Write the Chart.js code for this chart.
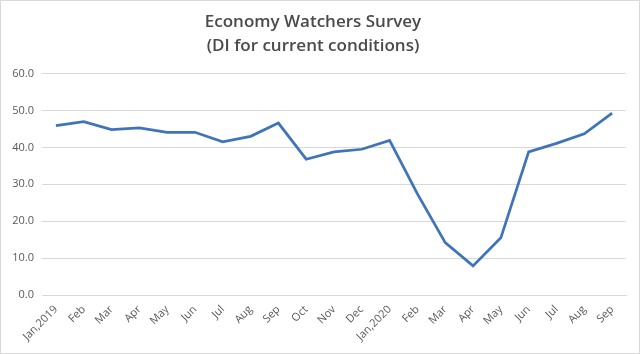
<!DOCTYPE html>
<html>
<head>
<meta charset="utf-8">
<script src="https://cdn.jsdelivr.net/npm/chart.js@4/dist/chart.umd.min.js"></script>
<style>
  html, body { margin: 0; padding: 0; background: #fff; }
  #wrap { position: relative; width: 640px; height: 354px; }
</style>
</head>
<body>
<div id="wrap"><canvas id="chart"></canvas></div>
<script>
// Economy Watchers Survey, DI for current conditions
const months = ['Jan,2019', 'Feb', 'Mar', 'Apr', 'May', 'Jun', 'Jul', 'Aug', 'Sep', 'Oct', 'Nov', 'Dec',
	'Jan,2020', 'Feb', 'Mar', 'Apr', 'May', 'Jun', 'Jul', 'Aug', 'Sep'];
const diCurrent = [45.9, 47.0, 44.8, 45.3, 44.1, 44.1, 41.5, 43.0, 46.6, 36.8, 38.8, 39.5,
	41.9, 27.4, 14.2, 7.9, 15.5, 38.8, 41.1, 43.7, 49.3];
const titleLines = ['Economy Watchers Survey', '(DI for current conditions)'];

const FONT = "'Open Sans', 'Liberation Sans', sans-serif";
const TEXT = '#595959';
const GRID = '#d9d9d9';

// thin frame round the whole picture
const frame = {
	id: 'frame',
	afterDraw(chart) {
		const c = chart.ctx;
		c.save();
		c.strokeStyle = GRID;
		c.lineWidth = 1;
		c.strokeRect(0.5, 0.5, chart.width - 1, chart.height - 1);
		c.restore();
	}
};

new Chart(document.getElementById('chart'), {
	type: 'line',
	data: {
		labels: months,
		datasets: [{
			data: diCurrent,
			borderColor: '#3f74bb',
			borderWidth: 2.75,
			pointRadius: 0,
			tension: 0,
			fill: false
		}]
	},
	options: {
		responsive: true,
		maintainAspectRatio: false,
		animation: false,
		layout: { padding: { left: 0, right: 14, top: 0, bottom: 0 } },
		plugins: {
			legend: { display: false },
			tooltip: { enabled: false },
			title: {
				display: true,
				text: titleLines,
				color: '#4a4a4a',
				font: { family: FONT, size: 17, weight: '600', lineHeight: 1.4 },
				padding: { top: 10, bottom: 16 }
			}
		},
		scales: {
			x: {
				offset: true,
				grid: { display: false, drawTicks: false },
				border: { display: true, color: GRID },
				ticks: {
					color: TEXT,
					font: { family: FONT, size: 11 },
					minRotation: 45,
					maxRotation: 45,
					autoSkip: false,
					padding: 8
				},
				afterFit(scale) { scale.height = 59; }
			},
			y: {
				min: 0,
				max: 60,
				grid: { color: GRID, drawTicks: false },
				border: { display: false },
				ticks: {
					stepSize: 10,
					color: TEXT,
					font: { family: FONT, size: 11 },
					padding: 8,
					callback: v => v.toFixed(1)
				},
				afterFit(scale) { scale.width = 42; }
			}
		}
	},
	plugins: [frame]
});
</script>
</body>
</html>
